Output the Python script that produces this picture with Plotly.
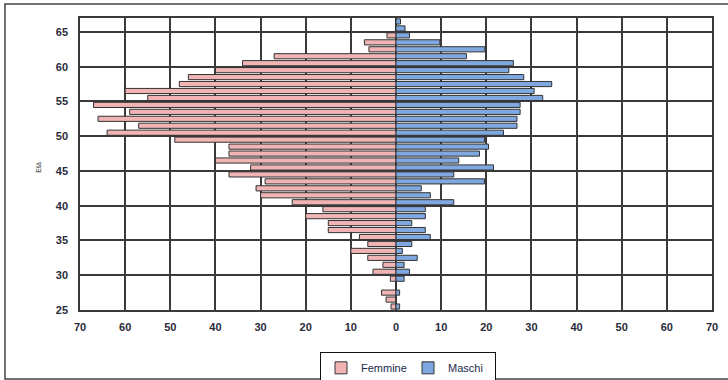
import plotly.graph_objects as go

ages = list(range(25, 67))
femmine = [1.1, 2.2, 3.2, 0, 1.25, 5.1, 2.9, 6.25, 10, 6.25,
           8.1, 15, 15, 20, 16.2, 23, 30, 31, 29, 37,
           32.2, 40, 37, 37, 49, 64, 57, 66, 59, 67,
           55, 60, 48, 46, 40, 34, 27, 6, 7, 2,
           0, 0]
maschi = [0.8, 0, 0.8, 0, 1.8, 3, 1.8, 4.7, 1.4, 3.5,
          7.6, 6.5, 3.5, 6.5, 6.5, 12.8, 7.6, 5.6, 19.6, 12.8,
          21.6, 13.9, 18.5, 20.5, 19.6, 23.8, 26.8, 26.8, 27.5, 27.5,
          32.5, 30.6, 34.5, 28.3, 25, 26, 15.6, 19.7, 9.7, 3,
          2, 1]
x_ticks = list(range(-70, 80, 10))
x_labels = [str(abs(v)) for v in x_ticks]
y_ticks = list(range(25, 70, 5))

font_family = "Liberation Sans, Arial, sans-serif"

fig = go.Figure()
fig.add_trace(go.Bar(
    y=ages, x=[-v for v in femmine], orientation="h", name="Femmine",
    width=0.74, offset=0.13,
    marker=dict(color="#F0B4B4", line=dict(color="#333333", width=1)),
))
fig.add_trace(go.Bar(
    y=ages, x=maschi, orientation="h", name="Maschi",
    width=0.74, offset=0.13,
    marker=dict(color="#7FA7E0", line=dict(color="#333333", width=1)),
))

fig.update_layout(
    width=728, height=380,
    margin=dict(l=80, r=16, t=18, b=70, autoexpand=False),
    barmode="overlay",
    paper_bgcolor="white", plot_bgcolor="white",
    font=dict(family=font_family, size=11, color="#222222"),
    legend=dict(
        orientation="h", x=0.519, xanchor="center", y=-0.145, yanchor="top",
        bordercolor="#111111", borderwidth=1,
        font=dict(size=11, color="#1a2a4a"),
        itemwidth=30, tracegroupgap=0, entrywidth=42,
    ),
    showlegend=True,
)
fig.update_xaxes(
    range=[-70, 70], tickvals=x_ticks, ticktext=x_labels,
    showgrid=True, gridcolor="#3a3a3a", gridwidth=1.5,
    showline=True, linecolor="#3a3a3a", linewidth=1.5, mirror=True,
    zeroline=False, ticks="", ticklabelstandoff=6, automargin=False,
    tickfont=dict(size=11, weight="bold", color="#2a2a3a"),
    fixedrange=True,
)
fig.update_yaxes(
    range=[25, 67], tickvals=y_ticks,
    showgrid=True, gridcolor="#3a3a3a", gridwidth=1.5,
    showline=True, linecolor="#3a3a3a", linewidth=1.5, mirror=True,
    zeroline=False, ticks="", ticklabelstandoff=8, automargin=False,
    tickfont=dict(size=11, weight="bold", color="#2a2a3a"),
    fixedrange=True,
)
fig.add_annotation(
    text="Età", xref="paper", yref="paper", x=-0.074, y=0.49,
    textangle=-90, showarrow=False, font=dict(size=7, color="#333333"),
)
fig.add_shape(
    type="rect", xref="paper", yref="paper",
    x0=-0.1187, x1=1.03, y0=-0.236, y1=1.048,
    line=dict(color="#444444", width=1.5), layer="below",
)
fig.write_html("out.html", config={"displayModeBar": False},
               post_script="document.body.style.margin='0';")
